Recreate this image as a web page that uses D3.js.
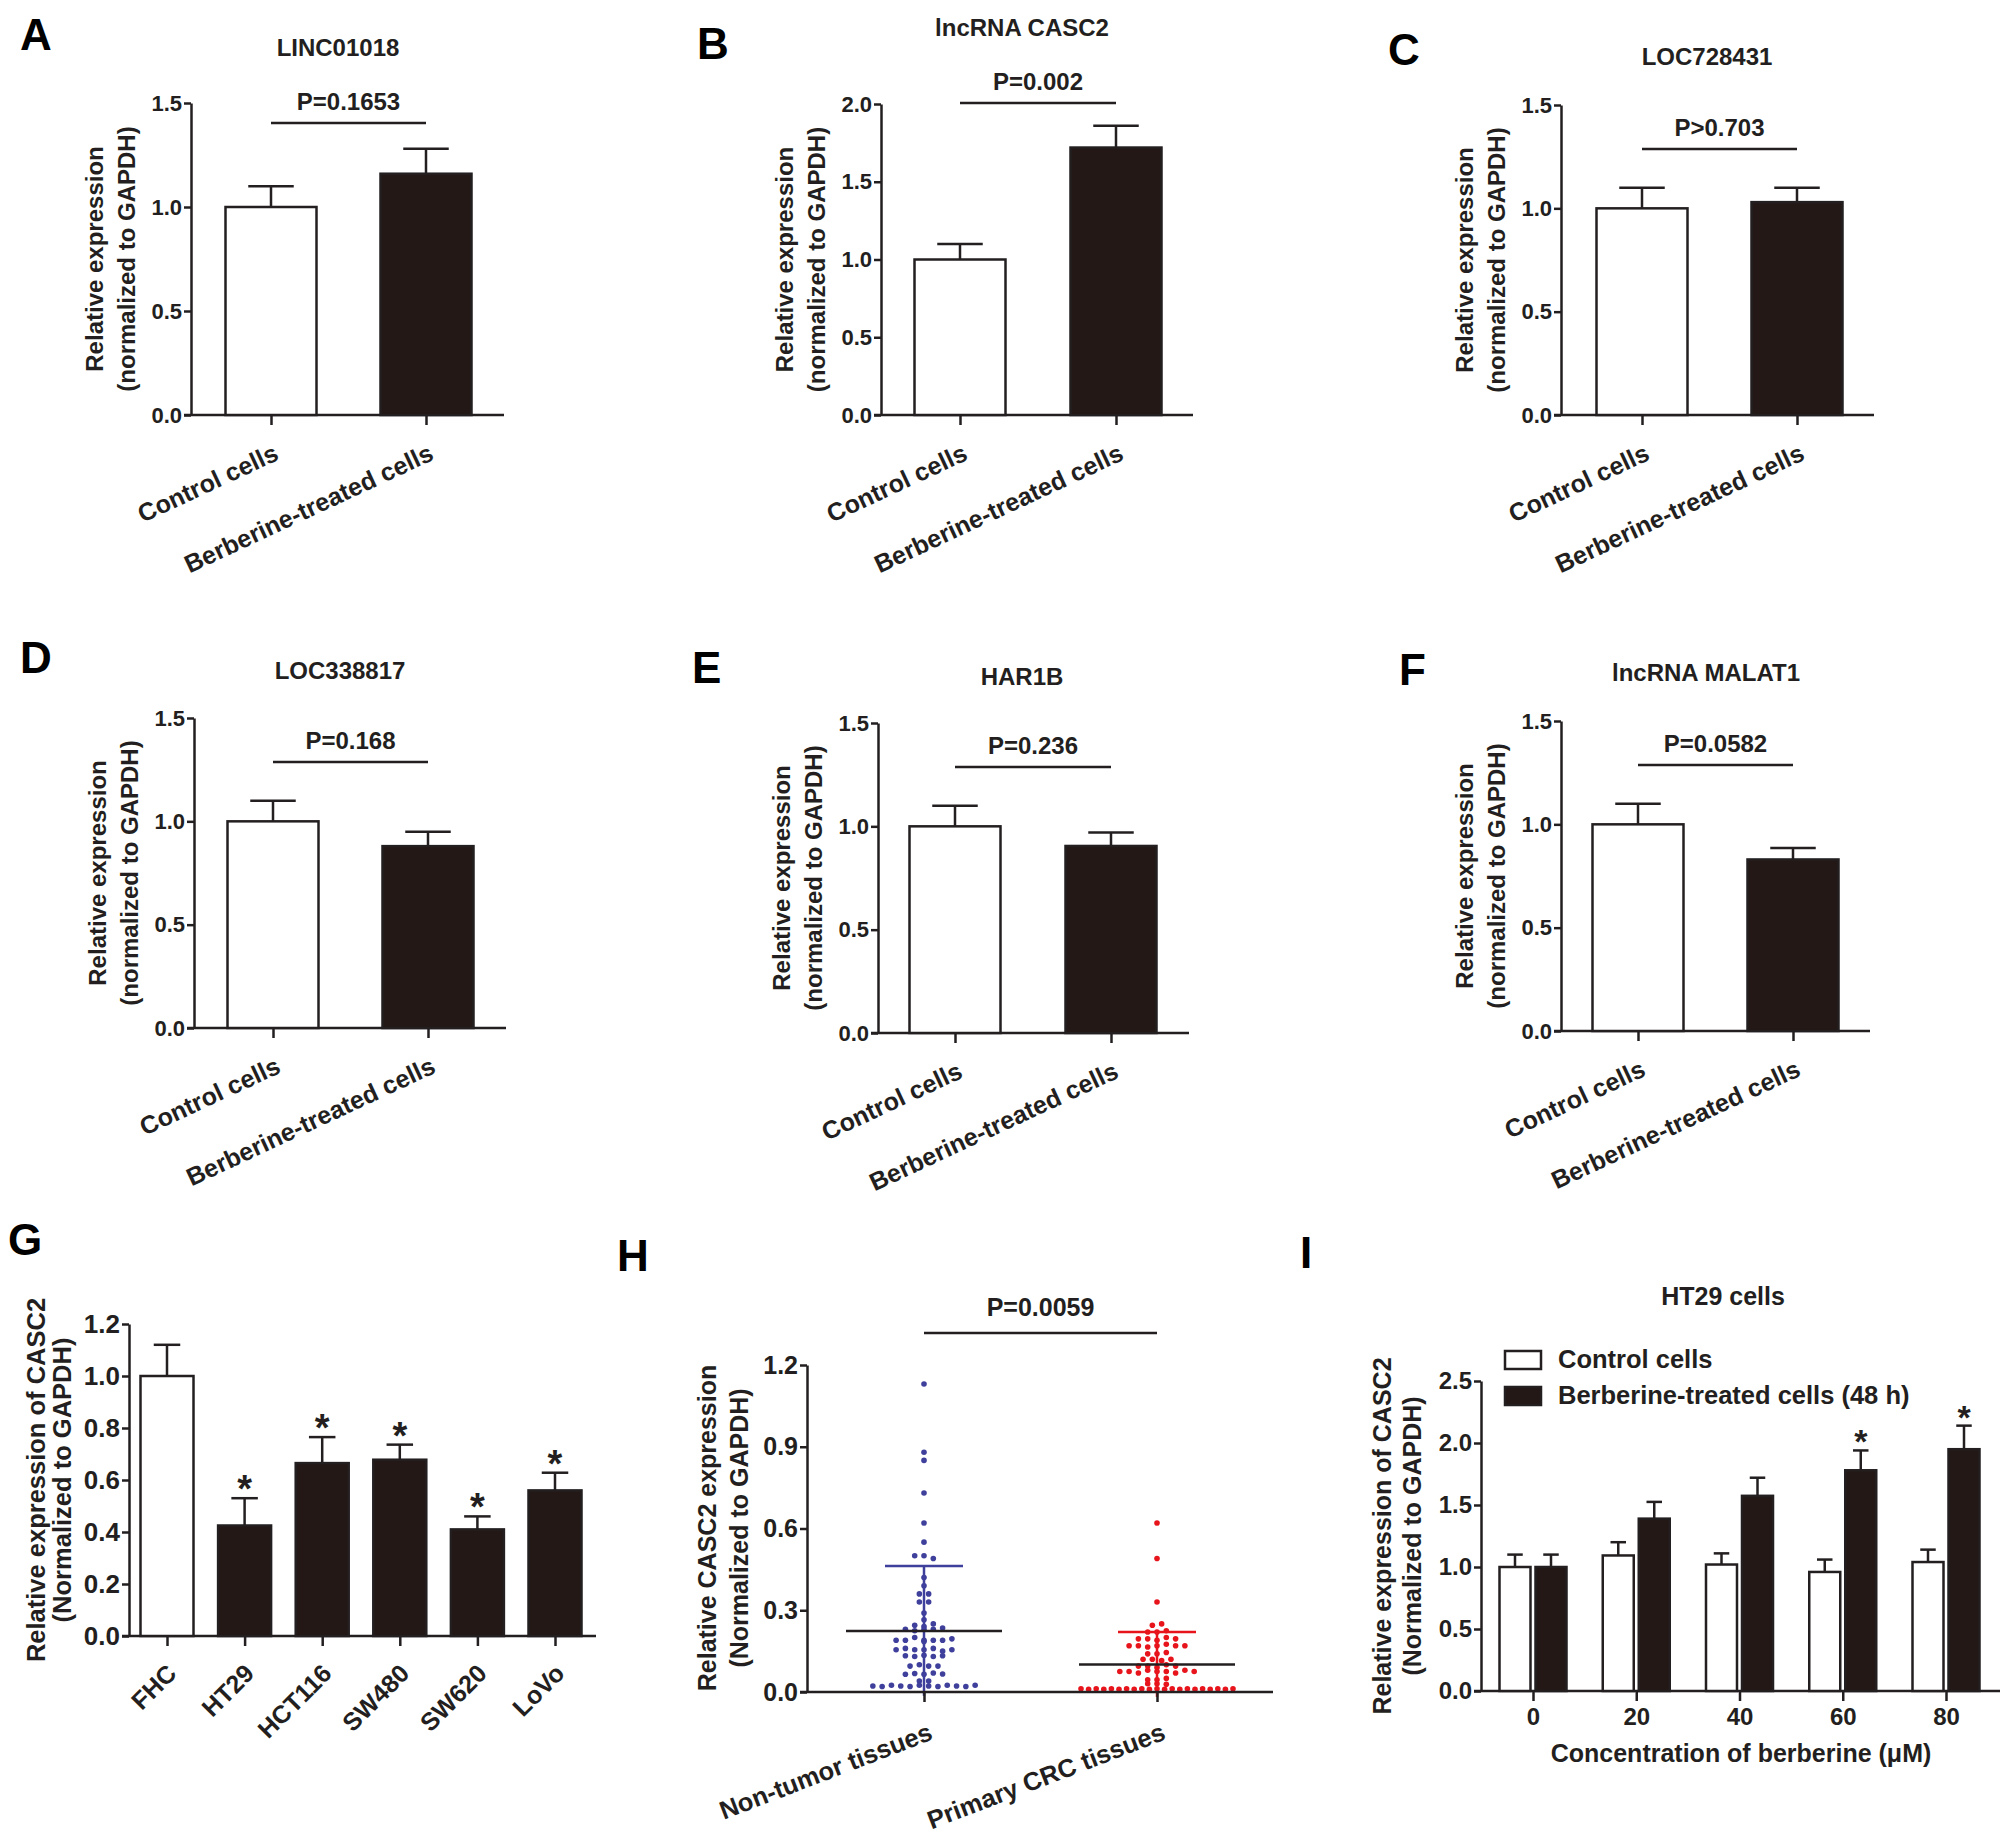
<!DOCTYPE html>
<html>
<head>
<meta charset="utf-8">
<script src="https://cdn.jsdelivr.net/npm/d3@7"></script>
<style>
  body { margin: 0; background: #fff; }
  text { font-family: "Liberation Sans", Arial, sans-serif; font-weight: bold; }
</style>
</head>
<body>
<svg id="fig"></svg>
<script>
const width = 2008;
const height = 1838;

// ---- panels A-F: control vs berberine-treated ----
const pairCats = ["Control cells", "Berberine-treated cells"];
const pairLetters = ["A", "B", "C", "D", "E", "F"];
const pairTitles = ["LINC01018", "lncRNA CASC2", "LOC728431", "LOC338817", "HAR1B", "lncRNA MALAT1"];
const pairMeans = [[1.0, 1.16], [1.0, 1.72], [1.0, 1.03], [1.0, 0.88], [1.0, 0.905], [1.0, 0.83]];
const pairErrs = [[0.1, 0.12], [0.1, 0.14], [0.1, 0.07], [0.1, 0.07], [0.1, 0.065], [0.1, 0.055]];
const pairP = ["P=0.1653", "P=0.002", "P>0.703", "P=0.168", "P=0.236", "P=0.0582"];
const pairYMax = [1.5, 2.0, 1.5, 1.5, 1.5, 1.5];

// ---- panel G: cell lines ----
const cellLines = ["FHC", "HT29", "HCT116", "SW480", "SW620", "LoVo"];
const cellMeans = [1.0, 0.425, 0.665, 0.678, 0.41, 0.56];
const cellErrs = [0.12, 0.105, 0.10, 0.058, 0.05, 0.068];
const cellStars = [false, true, true, true, true, true];
const cellTicks = [0, 0.2, 0.4, 0.6, 0.8, 1.0, 1.2];

// ---- panel H: tissues ----
const tissueGroups = ["Non-tumor tissues", "Primary CRC tissues"];
const nonTumor = [
  1.13, 0.88, 0.85, 0.73, 0.62, 0.55,
  0.50, 0.50, 0.49, 0.42, 0.39, 0.36, 0.36, 0.33, 0.33,
  0.29, 0.265,
  0.245, 0.24, 0.25,
  0.23, 0.225, 0.23, 0.23, 0.235,
  0.19, 0.19, 0.20, 0.19, 0.19, 0.185, 0.19, 0.195,
  0.155, 0.16, 0.155, 0.155, 0.16, 0.15, 0.155,
  0.133, 0.13, 0.135, 0.13, 0.133,
  0.095, 0.10, 0.095, 0.095,
  0.065, 0.068, 0.065, 0.07, 0.066,
  0.04, 0.04,
  0.022, 0.02, 0.025, 0.022, 0.02, 0.025, 0.022, 0.02, 0.025, 0.022, 0.02, 0.025
];
const primaryCRC = [
  0.62, 0.49, 0.33,
  0.245, 0.25,
  0.22, 0.22, 0.225,
  0.195, 0.195, 0.19, 0.2, 0.195,
  0.17, 0.17, 0.165, 0.17, 0.175, 0.17, 0.17,
  0.14, 0.14, 0.145,
  0.12, 0.12, 0.115, 0.12,
  0.095, 0.095, 0.09, 0.1, 0.095,
  0.075, 0.075, 0.07, 0.08, 0.075, 0.075, 0.07, 0.08, 0.075,
  0.045, 0.045, 0.05,
  0.03, 0.03, 0.028,
  0.012, 0.01, 0.012, 0.01, 0.012, 0.01, 0.012, 0.01, 0.012, 0.01, 0.012,
  0.01, 0.012, 0.01, 0.012, 0.01, 0.012, 0.01, 0.012, 0.01, 0.012
];
const tissueMeans = [0.224, 0.101];
const tissueSD = [0.238, 0.119];
const tissueTicks = [0, 0.3, 0.6, 0.9, 1.2];

// ---- panel I: dose response in HT29 ----
const doses = ["0", "20", "40", "60", "80"];
const doseSeries = ["Control cells", "Berberine-treated cells (48 h)"];
const doseControl = [1.0, 1.093, 1.02, 0.96, 1.04];
const doseControlErr = [0.1, 0.107, 0.09, 0.10, 0.10];
const doseTreated = [1.0, 1.39, 1.574, 1.78, 1.95];
const doseTreatedErr = [0.1, 0.135, 0.146, 0.16, 0.19];
const doseStars = [false, false, false, true, true];
const doseTicks = [0, 0.5, 1.0, 1.5, 2.0, 2.5];

const ink = "#231f20";
const darkFill = "#231815";
const blue = "#3f3f9c";
const red = "#e8141c";

const svg = d3.select("#fig")
    .attr("width", width)
    .attr("height", height);

svg.append("rect").attr("width", width).attr("height", height).attr("fill", "#fff");

function text(g, x, y, s, size, anchor = "middle") {
  return g.append("text")
      .attr("x", x).attr("y", y)
      .attr("font-size", size)
      .attr("text-anchor", anchor)
      .attr("fill", ink)
      .text(s);
}

function yTitle(g, xs, cy, lines, size) {
  lines.forEach((s, i) => {
    g.append("text")
        .attr("transform", `translate(${xs[i]},${cy}) rotate(-90)`)
        .attr("dy", "0.35em")
        .attr("text-anchor", "middle")
        .attr("font-size", size)
        .attr("fill", ink)
        .text(s);
  });
}

function yAxis(g, y, x0, ticks, size) {
  const a = g.append("g")
      .attr("transform", `translate(${x0},0)`)
      .call(d3.axisLeft(y).tickValues(ticks).tickFormat(d3.format(".1f"))
        .tickSize(7).tickSizeOuter(0).tickPadding(2));
  a.select(".domain").attr("stroke", ink).attr("stroke-width", 2.5);
  a.selectAll(".tick line").attr("stroke", ink).attr("stroke-width", 2.5);
  a.selectAll(".tick text").attr("font-size", size).attr("fill", ink);
}

function xBase(g, x, y0, xStart, xEnd) {
  g.append("line")
      .attr("x1", xStart).attr("x2", xEnd)
      .attr("y1", y0).attr("y2", y0)
      .attr("stroke", ink).attr("stroke-width", 2.5);
  const a = g.append("g")
      .attr("transform", `translate(0,${y0})`)
      .call(d3.axisBottom(x).tickSize(10).tickSizeOuter(0).tickFormat(""));
  a.select(".domain").remove();
  a.selectAll(".tick line").attr("stroke", ink).attr("stroke-width", 2.5);
}

function rotatedLabels(g, x, cats, y0, dx, dy, angle, size) {
  g.selectAll(null)
    .data(cats)
    .join("text")
      .attr("transform", d => `translate(${x(d) + dx},${y0 + dy}) rotate(${angle})`)
      .attr("text-anchor", "end")
      .attr("font-size", size)
      .attr("fill", ink)
      .text(d => d);
}

// items: {x, v, e, fill}
function bars(g, items, y, bw) {
  const cap = bw / 4;
  g.selectAll(null).data(items).join("line")
      .attr("x1", d => d.x).attr("x2", d => d.x)
      .attr("y1", d => y(d.v)).attr("y2", d => y(d.v + d.e))
      .attr("stroke", ink).attr("stroke-width", 2.5);
  g.selectAll(null).data(items).join("line")
      .attr("x1", d => d.x - cap).attr("x2", d => d.x + cap)
      .attr("y1", d => y(d.v + d.e)).attr("y2", d => y(d.v + d.e))
      .attr("stroke", ink).attr("stroke-width", 2.5);
  g.selectAll(null).data(items).join("rect")
      .attr("x", d => d.x - bw / 2)
      .attr("y", d => y(d.v))
      .attr("width", bw)
      .attr("height", d => y(0) - y(d.v))
      .attr("fill", d => d.fill)
      .attr("stroke", ink).attr("stroke-width", 2.5);
}

function stars(g, items, y, size, lift) {
  g.selectAll(null).data(items.filter(d => d.star)).join("text")
      .attr("x", d => d.x)
      .attr("y", d => y(d.v + d.e) + lift)
      .attr("text-anchor", "middle")
      .attr("font-size", size)
      .attr("fill", ink)
      .text("*");
}

// ---------- A-F ----------
const pairLayout = [
  { x0: 191, y0: 415, y1: 103, x1: 504, c0: 271, c1: 426, title: [338, 48], pY: 123, letter: [20, 50] },
  { x0: 881, y0: 415, y1: 104, x1: 1193, c0: 960, c1: 1116, title: [1022, 28], pY: 103, letter: [697, 59] },
  { x0: 1561, y0: 415, y1: 105, x1: 1874, c0: 1642, c1: 1797, title: [1707, 57], pY: 149, letter: [1388, 65] },
  { x0: 194, y0: 1028, y1: 718, x1: 506, c0: 273, c1: 428, title: [340, 671], pY: 762, letter: [20, 673] },
  { x0: 878, y0: 1033, y1: 723, x1: 1189, c0: 955, c1: 1111, title: [1022, 677], pY: 767, letter: [692, 683] },
  { x0: 1561, y0: 1031, y1: 721, x1: 1870, c0: 1638, c1: 1793, title: [1706, 673], pY: 765, letter: [1399, 685] }
];

pairTitles.forEach((title, i) => {
  const L = pairLayout[i];
  const g = svg.append("g");
  const y = d3.scaleLinear().domain([0, pairYMax[i]]).range([L.y0, L.y1]);
  const x = d3.scalePoint().domain(pairCats).range([L.c0, L.c1]);

  text(g, L.letter[0], L.letter[1], pairLetters[i], 44, "start").attr("fill", "#000");
  text(g, L.title[0], L.title[1] + 8, title, 24);

  yAxis(g, y, L.x0, d3.range(0, pairYMax[i] + 0.01, 0.5), 22);
  xBase(g, x, L.y0, L.x0 - 7, L.x1);

  const items = pairCats.map((c, j) => ({
    x: x(c), v: pairMeans[i][j], e: pairErrs[i][j], fill: j ? darkFill : "#fff"
  }));
  bars(g, items, y, 91);

  g.append("line")
      .attr("x1", x(pairCats[0])).attr("x2", x(pairCats[1]))
      .attr("y1", L.pY).attr("y2", L.pY)
      .attr("stroke", ink).attr("stroke-width", 2.5);
  text(g, (x(pairCats[0]) + x(pairCats[1])) / 2, L.pY - 13, pairP[i], 24);

  yTitle(g, [L.x0 - 96, L.x0 - 64], (L.y0 + L.y1) / 2,
    ["Relative expression", "(normalized to GAPDH)"], 24);
  rotatedLabels(g, x, pairCats, L.y0, 9, 44, -25, 25);
});

// ---------- G ----------
{
  const g = svg.append("g");
  const y = d3.scaleLinear().domain([0, 1.2]).range([1636, 1324]);
  const x = d3.scalePoint().domain(cellLines).range([167, 555]);

  text(g, 8, 1255, "G", 44, "start").attr("fill", "#000");
  yAxis(g, y, 129, cellTicks, 26);
  xBase(g, x, 1636, 122, 596);

  const items = cellLines.map((c, j) => ({
    x: x(c), v: cellMeans[j], e: cellErrs[j], fill: j ? darkFill : "#fff", star: cellStars[j]
  }));
  bars(g, items, y, 53);
  stars(g, items, y, 38, 4);

  yTitle(g, [36, 62], 1480, ["Relative expression of CASC2", "(Normalized to GAPDH)"], 25.5);
  rotatedLabels(g, x, cellLines, 1636, 11, 39, -45, 25);
}

// ---------- H ----------
{
  const g = svg.append("g");
  const y = d3.scaleLinear().domain([0, 1.2]).range([1692, 1365]);
  const x = d3.scalePoint().domain(tissueGroups).range([924, 1157]);

  text(g, 617, 1271, "H", 44, "start").attr("fill", "#000");

  // GraphPad-style scatter: values in the same row spread side by side,
  // crowded rows squeezed to a maximum width
  const swarm = (values, bin, step, maxW) => {
    const rows = d3.group(values, v => Math.round(v / bin));
    const out = [];
    rows.forEach(row => {
      const s = row.length > 1 ? Math.min(step, maxW / (row.length - 1)) : 0;
      row.forEach((v, k) => out.push({ v, dx: (k - (row.length - 1) / 2) * s }));
    });
    return out;
  };

  const groups = [
    { name: tissueGroups[0], values: nonTumor, color: blue, cap: 39 },
    { name: tissueGroups[1], values: primaryCRC, color: red, cap: 39 }
  ];

  groups.forEach((grp, k) => {
    const cx = x(grp.name);
    g.append("g").selectAll("circle")
      .data(swarm(grp.values, 0.025, 9.3, 152))
      .join("circle")
        .attr("cx", d => cx + d.dx)
        .attr("cy", d => y(d.v))
        .attr("r", 2.8)
        .attr("fill", grp.color);

    const m = tissueMeans[k], s = tissueSD[k];
    g.append("line")
        .attr("x1", cx).attr("x2", cx)
        .attr("y1", y(m - s)).attr("y2", y(m + s))
        .attr("stroke", grp.color).attr("stroke-width", 2.5);
    g.append("line")
        .attr("x1", cx - grp.cap).attr("x2", cx + grp.cap)
        .attr("y1", y(m + s)).attr("y2", y(m + s))
        .attr("stroke", grp.color).attr("stroke-width", 2.5);
    g.append("line")
        .attr("x1", cx - 78).attr("x2", cx + 78)
        .attr("y1", y(m)).attr("y2", y(m))
        .attr("stroke", ink).attr("stroke-width", 2.5);
  });

  yAxis(g, y, 807, tissueTicks, 25);
  xBase(g, x, 1692, 800, 1273);

  g.append("line")
      .attr("x1", x(tissueGroups[0])).attr("x2", x(tissueGroups[1]))
      .attr("y1", 1333).attr("y2", 1333)
      .attr("stroke", ink).attr("stroke-width", 2.5);
  text(g, (x(tissueGroups[0]) + x(tissueGroups[1])) / 2, 1316, "P=0.0059", 25);

  yTitle(g, [707, 739], 1528, ["Relative CASC2 expression", "(Normalized to GAPDH)"], 25);
  rotatedLabels(g, x, tissueGroups, 1692, 10, 47, -21, 25.5);
}

// ---------- I ----------
{
  const g = svg.append("g");
  const y = d3.scaleLinear().domain([0, 2.5]).range([1691, 1381]);
  const x = d3.scalePoint().domain(doses).range([1533, 1946]);

  text(g, 1300, 1268, "I", 44, "start").attr("fill", "#000");
  text(g, 1723, 1305, "HT29 cells", 25);

  yAxis(g, y, 1481, doseTicks, 24);
  g.append("line")
      .attr("x1", 1474).attr("x2", 2000)
      .attr("y1", 1691).attr("y2", 1691)
      .attr("stroke", ink).attr("stroke-width", 2.5);
  const xa = g.append("g")
      .attr("transform", "translate(0,1691)")
      .call(d3.axisBottom(x).tickSize(10).tickSizeOuter(0).tickPadding(7));
  xa.select(".domain").remove();
  xa.selectAll(".tick line").attr("stroke", ink).attr("stroke-width", 2.5);
  xa.selectAll(".tick text").attr("font-size", 24).attr("fill", ink);

  const items = [];
  doses.forEach((d, j) => {
    items.push({ x: x(d) - 18, v: doseControl[j], e: doseControlErr[j], fill: "#fff", star: false });
    items.push({ x: x(d) + 18, v: doseTreated[j], e: doseTreatedErr[j], fill: darkFill, star: doseStars[j] });
  });
  bars(g, items, y, 31);
  stars(g, items, y, 34, 3);

  // legend
  const lg = g.append("g");
  doseSeries.forEach((s, j) => {
    lg.append("rect")
        .attr("x", 1505).attr("y", 1351 + j * 36)
        .attr("width", 36).attr("height", 18)
        .attr("fill", j ? darkFill : "#fff")
        .attr("stroke", ink).attr("stroke-width", 2.5);
    text(lg, 1558, 1368 + j * 36, s, 25.5, "start");
  });

  text(g, 1741, 1762, "Concentration of berberine (\u03bcM)", 25);
  yTitle(g, [1382, 1412], 1536, ["Relative expression of CASC2", "(Normalized to GAPDH)"], 25);
}
</script>
</body>
</html>
